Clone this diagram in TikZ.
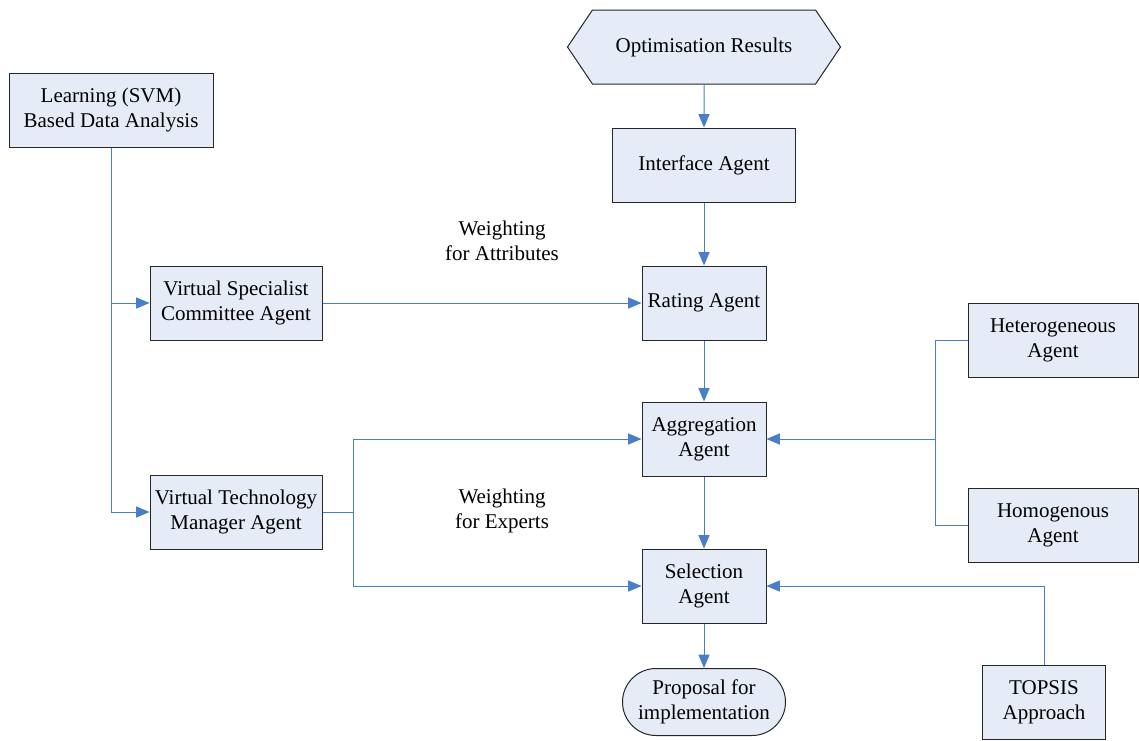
\documentclass[tikz,border=0pt]{standalone}
\usepackage{fontspec}
\setmainfont{Liberation Serif}
\usetikzlibrary{arrows,shapes.symbols,shapes.misc}
\definecolor{boxfill}{RGB}{230,236,247}
\definecolor{linkblue}{RGB}{74,126,200}

\begin{document}
\begin{tikzpicture}[x=0.5pt,y=-0.5pt]
    \tikzset{agent/.style = {shape=rectangle, draw=black!85, fill=boxfill, line width=0.5pt, align=center, inner sep=0pt, minimum height=37pt, font=\fontsize{10.5}{12.5}\selectfont}}
    \tikzset{note/.style = {align=center, font=\fontsize{10.5}{12.5}\selectfont}}
    \tikzset{link/.style = {draw=linkblue, line width=0.5pt, -triangle 45}}
    \useasboundingbox (0,0) rectangle (1139,740);

    % vertices
    \node[agent, signal, signal to=west and east, signal pointer angle=112, minimum width=136.5pt] (opt) at (704,47) {Optimisation Results};
    \node[agent, minimum width=91.5pt] (iface) at (704,165) {Interface Agent};
    \node[agent, minimum width=102pt] (learn) at (111,110) {Learning (SVM)\\Based Data Analysis};
    \node[agent, minimum width=86pt] (vsc) at (236,303) {Virtual Specialist\\Committee Agent};
    \node[agent, minimum width=86pt] (vtm) at (236,512) {Virtual Technology\\Manager Agent};
    \node[agent, minimum width=62pt] (rate) at (704,303) {Rating Agent};
    \node[agent, minimum width=62pt] (aggr) at (704,439) {Aggregation\\Agent};
    \node[agent, minimum width=62pt] (sel) at (704,586) {Selection\\Agent};
    \node[agent, rounded rectangle, minimum width=81.5pt, minimum height=33.5pt] (prop) at (704,702) {Proposal for\\implementation};
    \node[agent, minimum width=85pt] (het) at (1053,340) {Heterogeneous\\Agent};
    \node[agent, minimum width=85pt] (hom) at (1053,525) {Homogenous\\Agent};
    \node[agent, minimum width=61.5pt] (topsis) at (1044,702) {TOPSIS\\Approach};

    % labels
    \node[note] (wattr) at (502,241) {Weighting\\for Attributes};
    \node[note] (wexp) at (502,511) {Weighting\\for Experts};

    % joints
    \coordinate (vtmjoin) at (353,512);
    \coordinate (hjoin) at (935,439);

    % edges
    \draw[link] (opt) -- (iface);
    \draw[link] (iface) -- (rate);
    \draw[link] (rate) -- (aggr);
    \draw[link] (aggr) -- (sel);
    \draw[link] (sel) -- (prop);
    \draw[link] (learn.south) |- (vsc.west);
    \draw[link] (learn.south) |- (vtm.west);
    \draw[link] (vsc) -- (rate);
    \draw[draw=linkblue, line width=0.5pt] (vtm.east) -- (vtmjoin);
    \draw[link] (vtmjoin) |- (aggr.west);
    \draw[link] (vtmjoin) |- (sel.west);
    \draw[draw=linkblue, line width=0.5pt] (het.west) -| (hjoin);
    \draw[draw=linkblue, line width=0.5pt] (hom.west) -| (hjoin);
    \draw[link] (hjoin) -- (aggr.east);
    \draw[link] (topsis.north) |- (sel.east);
\end{tikzpicture}
\end{document}
